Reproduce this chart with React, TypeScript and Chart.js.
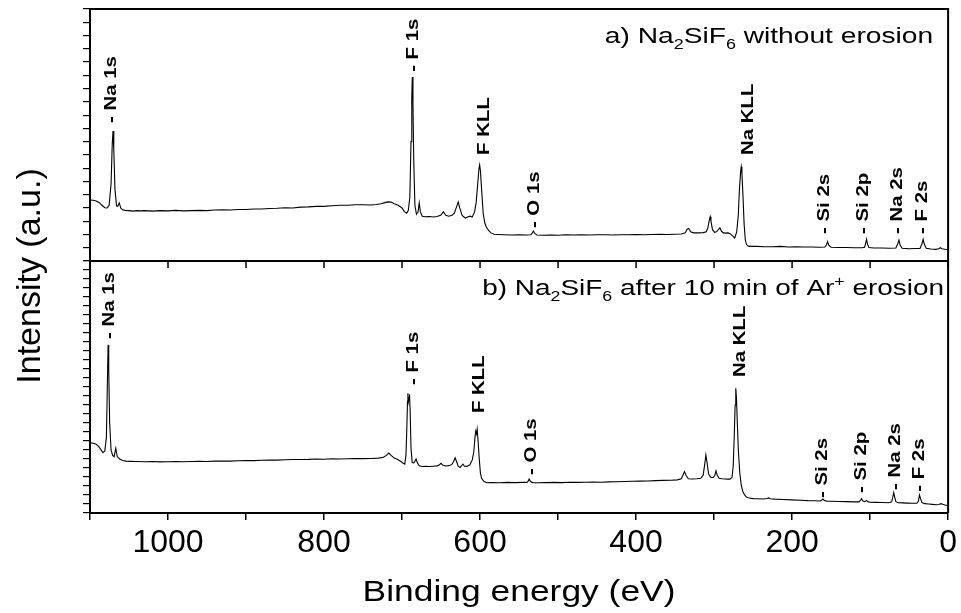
import { useEffect, useRef } from 'react';
import { Chart, registerables } from 'chart.js';

Chart.register(...registerables);

const FONT = '"Liberation Sans", Arial, Helvetica, sans-serif';

// x tick labels (binding energy, eV)
const xTickLabels = [1000, 800, 600, 400, 200, 0];

// Spectrum a) Na2SiF6 without erosion: [binding energy (eV), intensity (a.u.)]
const spectrumA: [number, number][] = [
  [1100, 23.0], [1096, 22.9], [1092, 22.6], [1088, 22.0], [1085, 21.1], [1081, 20.1], [1078, 20.0], [1075.5, 21.0],
  [1073, 29.0], [1071.5, 44.0], [1070.5, 49.0], [1069.5, 42.0], [1068, 27.0], [1066, 20.8], [1064.5, 20.6], [1062.5, 21.9],
  [1060.5, 19.9], [1058, 19.3], [1055, 19.1], [1050, 19.0], [1045, 18.8], [1040, 19.0], [1035, 18.9], [1030, 19.0],
  [1020, 18.8], [1010, 19.0], [1000, 18.9], [990, 19.1], [980, 18.9], [970, 19.0], [960, 19.1], [950, 19.0],
  [940, 19.2], [930, 19.3], [920, 19.2], [910, 19.4], [900, 19.4], [890, 19.6], [880, 19.6], [870, 19.8],
  [860, 19.9], [850, 20.1], [840, 20.0], [830, 20.3], [820, 20.4], [810, 20.6], [800, 20.6], [790, 20.8],
  [780, 21.0], [770, 21.0], [760, 21.2], [750, 21.2], [740, 21.1], [733, 21.3], [727, 21.6], [722, 22.0],
  [718, 22.3], [714, 22.2], [710, 21.6], [705, 21.0], [700, 20.0], [697, 18.6], [694, 18.0], [692, 19.0],
  [690, 24.0], [688.5, 45.0], [687.5, 62.0], [686.8, 69.4], [686, 60.0], [685, 38.0], [683.5, 21.0], [681.5, 17.6],
  [679.5, 18.5], [678, 21.9], [676.5, 18.5], [674, 16.9], [670, 16.7], [665, 16.8], [660, 16.6], [655, 16.8],
  [650, 17.3], [647, 18.6], [644, 17.2], [640, 16.9], [636, 17.2], [633, 18.0], [630, 20.5], [628, 22.3],
  [626, 20.0], [623, 17.2], [619, 16.2], [616, 16.6], [613, 16.9], [610, 16.6], [607, 18.5], [605, 22.0],
  [603, 29.0], [601.5, 34.5], [600.5, 36.2], [599.5, 34.0], [598, 27.0], [596, 18.0], [594, 14.5], [592, 12.8],
  [589, 11.5], [586, 10.6], [582, 10.1], [577, 10.0], [570, 9.9], [560, 9.8], [550, 9.9], [540, 9.8],
  [535, 9.9], [533, 10.6], [531.5, 11.3], [530, 10.4], [527, 9.8], [520, 9.7], [510, 9.8], [500, 9.7],
  [490, 9.9], [480, 9.8], [470, 9.9], [460, 9.8], [450, 9.9], [440, 9.9], [430, 9.8], [420, 9.9],
  [410, 9.9], [400, 10.0], [390, 9.9], [380, 10.0], [370, 10.1], [360, 10.0], [350, 10.1], [342, 10.2],
  [337, 10.6], [334.5, 12.0], [332.5, 12.3], [330, 11.0], [326, 10.6], [320, 10.6], [314, 10.7], [310, 11.0],
  [308, 12.5], [306, 15.5], [305, 16.7], [304, 15.0], [302, 11.8], [299.5, 10.8], [297, 11.0], [294.5, 11.8],
  [292.5, 12.5], [290.5, 11.2], [288, 10.6], [285, 10.5], [282, 10.6], [279, 10.2], [276, 9.4], [273.5, 8.7],
  [271, 11.0], [269, 17.0], [267.5, 27.0], [266, 33.5], [265.2, 35.5], [264.3, 33.0], [263, 25.0], [261.5, 14.0],
  [260, 8.0], [258.5, 6.2], [256, 5.6], [252, 5.5], [245, 5.5], [235, 5.4], [225, 5.4], [215, 5.5],
  [205, 5.3], [195, 5.4], [185, 5.3], [175, 5.3], [165, 5.2], [158, 5.3], [156, 6.0], [154.5, 7.3],
  [153, 6.0], [150, 5.2], [140, 5.1], [130, 5.1], [120, 5.0], [110, 5.0], [107, 5.2], [105.5, 7.0],
  [104.5, 8.2], [103.5, 6.5], [101.5, 5.1], [95, 4.9], [85, 4.9], [75, 4.8], [67, 4.9], [64.5, 6.5],
  [63, 7.9], [61.5, 6.0], [59, 4.8], [50, 4.6], [42, 4.7], [36, 4.7], [33.5, 6.5], [32, 8.2],
  [30.5, 6.3], [28, 4.8], [22, 4.5], [16, 4.4], [12, 4.6], [10, 5.0], [8, 4.6], [4, 4.4], [0, 4.3],
];

// Spectrum b) Na2SiF6 after 10 min of Ar+ erosion: [binding energy (eV), intensity (a.u.)]
const spectrumB: [number, number][] = [
  [1100, 39.1], [1096, 38.8], [1092, 38.2], [1089, 37.0], [1086, 35.2], [1083.5, 33.5], [1081, 34.5], [1079, 42.0],
  [1077.8, 70.0], [1076.8, 93.4], [1076, 80.0], [1074.8, 50.0], [1073, 35.0], [1071, 32.0], [1069, 31.3], [1067, 36.0],
  [1065, 31.2], [1062, 30.0], [1058, 29.2], [1054, 28.8], [1048, 28.7], [1040, 28.6], [1030, 28.5], [1020, 28.6],
  [1010, 28.4], [1000, 28.5], [990, 28.6], [980, 28.5], [970, 28.6], [960, 28.7], [950, 28.6], [940, 28.8],
  [930, 28.9], [920, 28.8], [910, 29.0], [900, 29.1], [890, 29.1], [880, 29.3], [870, 29.4], [860, 29.4],
  [850, 29.6], [840, 29.7], [830, 29.7], [820, 29.8], [810, 30.0], [800, 29.9], [790, 30.1], [780, 30.0],
  [770, 30.1], [760, 30.2], [750, 30.2], [740, 30.3], [730, 30.5], [724, 31.0], [720, 32.0], [717, 33.3],
  [714, 32.0], [710, 30.5], [706, 29.8], [702, 28.8], [699, 27.8], [696.5, 27.2], [695, 32.0], [694, 45.0],
  [693, 62.0], [692.5, 66.5], [691.8, 62.0], [691, 64.0], [690.4, 66.0], [689.5, 55.0], [688.5, 36.0], [687, 28.0],
  [685, 27.8], [683.5, 28.8], [682, 30.0], [680.5, 28.0], [678, 26.2], [674, 25.8], [670, 25.9], [665, 25.8],
  [660, 26.0], [655, 26.2], [652, 26.8], [650, 27.6], [648, 26.6], [644, 26.1], [640, 26.3], [636, 27.0],
  [634, 28.5], [632, 30.7], [630, 28.5], [628, 26.0], [625.5, 25.3], [623.5, 26.4], [622, 27.2], [620, 26.0],
  [617, 25.9], [613, 26.8], [610, 29.5], [608, 34.0], [606.5, 42.0], [605.5, 45.5], [604.5, 44.0], [603.7, 46.5],
  [602.5, 40.0], [601, 30.0], [599.5, 22.0], [598, 19.3], [595, 17.5], [591, 16.8], [585, 16.9], [575, 16.8],
  [565, 17.0], [555, 16.9], [545, 17.0], [540, 17.0], [538.5, 17.6], [537, 18.9], [535.5, 17.6], [533, 16.9],
  [525, 16.8], [515, 16.9], [505, 17.0], [495, 16.9], [485, 17.1], [475, 17.0], [465, 17.1], [455, 17.2],
  [445, 17.1], [435, 17.3], [425, 17.4], [415, 17.5], [405, 17.6], [395, 17.7], [385, 17.8], [375, 18.0],
  [365, 18.1], [355, 18.2], [347, 18.4], [342, 19.0], [340, 21.0], [338, 23.0], [336, 21.0], [333, 19.0],
  [328, 18.9], [322, 19.0], [317, 19.3], [314, 21.0], [312, 27.0], [310.5, 32.2], [309, 28.0], [307, 21.5],
  [304, 19.8], [301, 19.7], [299, 21.0], [297.5, 23.4], [296, 21.0], [293.5, 19.3], [290, 19.0], [286, 18.9],
  [282, 18.8], [279.5, 18.8], [277, 19.8], [275.5, 26.0], [274.2, 42.0], [273, 60.0], [272.2, 69.3], [271.3, 64.0],
  [270.2, 50.0], [268.8, 34.0], [267, 22.0], [265, 15.0], [263, 11.8], [261, 10.2], [258.5, 8.9], [255, 8.3],
  [250, 8.0], [244, 7.9], [237, 7.8], [232, 8.1], [230, 8.4], [228, 7.9], [222, 7.7], [212, 7.5],
  [200, 7.3], [190, 7.1], [180, 6.9], [170, 6.8], [164, 6.7], [162, 7.2], [160.5, 7.8], [159, 7.1],
  [156, 6.6], [150, 6.5], [140, 6.4], [130, 6.3], [120, 6.2], [114, 6.2], [112.2, 7.2], [111, 8.0],
  [109.5, 6.8], [107, 6.3], [104.5, 7.0], [103, 6.3], [100, 6.0], [92, 5.9], [84, 5.8], [76, 5.7],
  [72.5, 6.2], [71, 8.5], [69.7, 11.3], [68.5, 9.0], [67, 6.3], [64, 5.7], [58, 5.6], [52, 5.5],
  [46, 5.4], [40, 5.4], [38, 6.6], [36.7, 10.0], [35.3, 8.0], [33.5, 5.8], [30, 5.2], [25, 5.0],
  [20, 4.8], [15, 4.6], [12, 4.7], [9, 5.2], [7, 4.8], [4, 4.4], [0, 4.1],
];

// Peak annotations
const peakNamesA = ['- Na 1s', '- F 1s', 'F KLL', '- O 1s', 'Na KLL', '- Si 2s', '- Si 2p', '- Na 2s', '- F 2s'];
const peakEnergyA = [1074, 687.5, 596, 532, 258.5, 161, 110, 67, 34.5];
const peakLevelA = [52.0, 71.3, 40.0, 12.4, 40.0, 10.2, 10.2, 10.2, 10.2];

const peakNamesB = ['- Na 1s', '- F 1s', 'F KLL', '- O 1s', 'Na KLL', '- Si 2s', '- Si 2p', '- Na 2s', '- F 2s'];
const peakEnergyB = [1077, 688, 602.5, 536, 268.6, 163.7, 112.6, 70, 38.4];
const peakLevelB = [96.7, 71.1, 55.5, 21.1, 75.6, 8.3, 11.1, 12.8, 11.8];

type Part = { text: string; sub?: boolean; sup?: boolean };
const titleA: Part[] = [
  { text: 'a) Na' }, { text: '2', sub: true }, { text: 'SiF' }, { text: '6', sub: true }, { text: ' without erosion' },
];
const titleB: Part[] = [
  { text: 'b) Na' }, { text: '2', sub: true }, { text: 'SiF' }, { text: '6', sub: true },
  { text: ' after 10 min of Ar' }, { text: '+', sup: true }, { text: ' erosion' },
];
const xTitle = 'Binding energy (eV)';
const yTitle = 'Intensity (a.u.)';

function drawRich(ctx: CanvasRenderingContext2D, parts: Part[], right: number, baseline: number, size: number, sx: number) {
  const main = `${size}px ${FONT}`;
  const small = `${Math.round(size * 0.62)}px ${FONT}`;
  let w = 0;
  for (const p of parts) {
    ctx.font = p.sub || p.sup ? small : main;
    w += ctx.measureText(p.text).width;
  }
  ctx.save();
  ctx.translate(right - w * sx, baseline);
  ctx.scale(sx, 1);
  ctx.textAlign = 'left';
  ctx.textBaseline = 'alphabetic';
  let x = 0;
  for (const p of parts) {
    ctx.font = p.sub || p.sup ? small : main;
    const dy = p.sub ? size * 0.25 : p.sup ? -size * 0.42 : 0;
    ctx.fillText(p.text, x, dy);
    x += ctx.measureText(p.text).width;
  }
  ctx.restore();
}

function drawVertical(ctx: CanvasRenderingContext2D, text: string, cx: number, y: number, font: string, size: number, sx: number, align: CanvasTextAlign) {
  ctx.save();
  ctx.translate(cx + size * 0.36, y);
  ctx.rotate(-Math.PI / 2);
  ctx.scale(sx, 1);
  ctx.font = font;
  ctx.textAlign = align;
  ctx.textBaseline = 'alphabetic';
  ctx.fillText(text, 0, 0);
  ctx.restore();
}

const overlayPlugin = {
  id: 'xpsOverlay',
  afterDraw(chart: any) {
    const { ctx, chartArea: ca, scales } = chart;
    const xs = scales.x;
    const yT = scales.yTop;
    const yB = scales.yBot;
    ctx.save();
    ctx.strokeStyle = '#000';
    ctx.fillStyle = '#000';
    ctx.lineWidth = 2;
    const yd = yT.bottom;
    ctx.beginPath();
    ctx.moveTo(ca.left - 1, ca.top);
    ctx.lineTo(ca.right + 1, ca.top);
    ctx.moveTo(ca.right, ca.top);
    ctx.lineTo(ca.right, ca.bottom);
    ctx.moveTo(ca.left, yd);
    ctx.lineTo(ca.right, yd);
    ctx.stroke();
    ctx.lineWidth = 1.5;
    ctx.beginPath();
    for (const t of xs.ticks) {
      const px = xs.getPixelForValue(t.value);
      ctx.moveTo(px, yd);
      ctx.lineTo(px, yd + 7);
    }
    ctx.stroke();

    // peak labels
    const pfont = `bold 17px ${FONT}`;
    peakNamesA.forEach((name, i) => {
      drawVertical(ctx, name, xs.getPixelForValue(peakEnergyA[i]), yT.getPixelForValue(peakLevelA[i]), pfont, 17, 1.2, 'left');
    });
    peakNamesB.forEach((name, i) => {
      drawVertical(ctx, name, xs.getPixelForValue(peakEnergyB[i]), yB.getPixelForValue(peakLevelB[i]), pfont, 17, 1.2, 'left');
    });

    // panel titles
    drawRich(ctx, titleA, ca.right - 15, yT.top + 34, 22, 1.28);
    drawRich(ctx, titleB, ca.right - 4, yB.top + 34, 22, 1.27);

    // axis titles
    ctx.save();
    ctx.font = `30px ${FONT}`;
    ctx.textAlign = 'center';
    ctx.textBaseline = 'alphabetic';
    ctx.translate((ca.left + ca.right) / 2, 601);
    ctx.scale(1.18, 1);
    ctx.fillText(xTitle, 0, 0);
    ctx.restore();

    ctx.save();
    ctx.font = `34px ${FONT}`;
    ctx.textAlign = 'center';
    ctx.textBaseline = 'alphabetic';
    ctx.translate(40, (ca.top + ca.bottom) / 2 + 15);
    ctx.rotate(-Math.PI / 2);
    ctx.fillText(yTitle, 0, 0);
    ctx.restore();
    ctx.restore();
  },
};

export default function App() {
  const canvasRef = useRef<HTMLCanvasElement | null>(null);

  useEffect(() => {
    const canvas = canvasRef.current;
    if (!canvas) return;
    const yCommon = (max: number, weight: number) => ({
      type: 'linear' as const,
      position: 'left' as const,
      stack: 'panels',
      stackWeight: 1,
      weight,
      min: 0,
      max,
      ticks: { display: false, stepSize: 5 },
      grid: { display: true, drawOnChartArea: false, drawTicks: true, tickLength: 7, color: '#000', lineWidth: 1.2 },
      border: { display: true, color: '#000', width: 2 },
      afterFit: (s: any) => { s.width = 90; },
    });
    const chart = new Chart(canvas, {
      type: 'line',
      data: {
        datasets: [
          {
            label: 'a',
            data: spectrumA.map(([x, y]) => ({ x, y })),
            yAxisID: 'yTop',
            borderColor: '#000',
            borderWidth: 1.1,
            pointRadius: 0,
            tension: 0,
            fill: false,
          },
          {
            label: 'b',
            data: spectrumB.map(([x, y]) => ({ x, y })),
            yAxisID: 'yBot',
            borderColor: '#000',
            borderWidth: 1.1,
            pointRadius: 0,
            tension: 0,
            fill: false,
          },
        ],
      },
      options: {
        animation: false,
        responsive: false,
        maintainAspectRatio: false,
        parsing: false,
        normalized: true,
        layout: { padding: { left: 0, top: 9, right: 11, bottom: 0 } },
        plugins: { legend: { display: false }, tooltip: { enabled: false } },
        scales: {
          x: {
            type: 'linear',
            position: 'bottom',
            reverse: true,
            min: 0,
            max: 1100,
            ticks: {
              stepSize: 100,
              autoSkip: false,
              maxRotation: 0,
              padding: 4,
              color: '#000',
              font: { family: FONT, size: 32 },
              callback: (v: any) => (xTickLabels.includes(Number(v)) ? String(v) : ''),
            },
            grid: { display: true, drawOnChartArea: false, drawTicks: true, tickLength: 7, color: '#000', lineWidth: 1.5 },
            border: { display: true, color: '#000', width: 2 },
            afterFit: (s: any) => { s.height = 100; },
          },
          yTop: yCommon(95, 2),
          yBot: yCommon(140, 1),
        } as any,
      },
      plugins: [overlayPlugin],
    });
    return () => chart.destroy();
  }, []);

  return (
    <div style={{ position: 'absolute', left: 0, top: 0, width: 961, height: 613, background: '#fff' }}>
      <canvas ref={canvasRef} width={961} height={613} style={{ width: 961, height: 613, display: 'block' }} />
    </div>
  );
}
